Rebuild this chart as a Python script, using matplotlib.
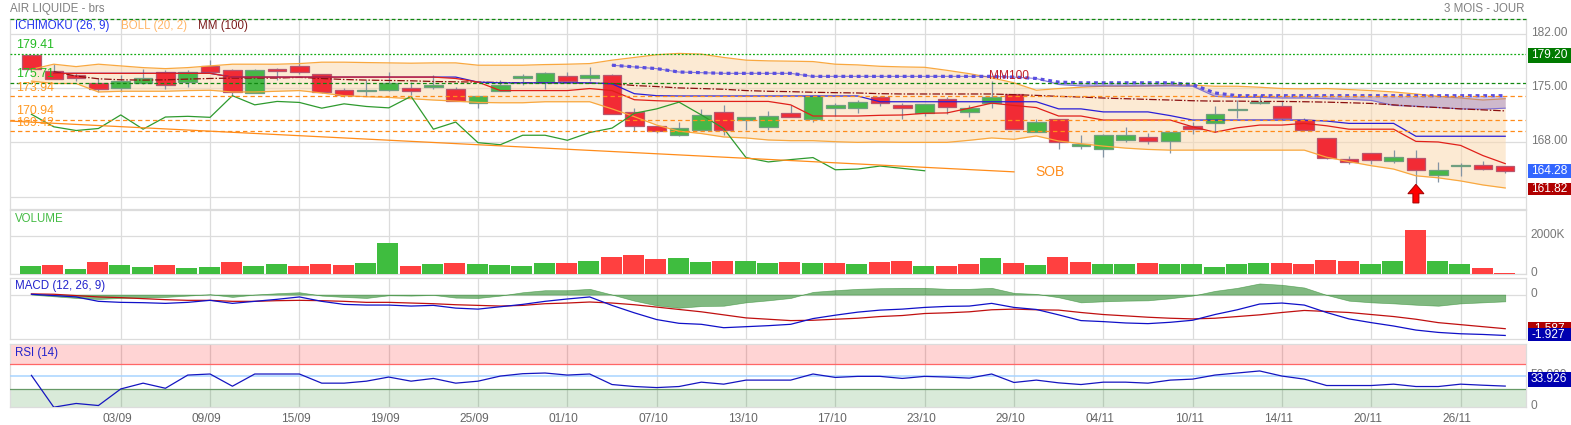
import numpy as np
import matplotlib
matplotlib.use("Agg")
import matplotlib.pyplot as plt
from matplotlib.patches import FancyArrow, Rectangle
from matplotlib.transforms import ScaledTranslation

plt.rcParams['font.family'] = ['Liberation Sans', 'DejaVu Sans']

nan = float('nan')

# Candles
candle_open = [179.30, 177.20, 176.68, 175.63, 175.02, 175.68, 177.03, 175.77, 177.81, 177.33,
               174.37, 177.47, 177.81, 176.77, 174.81, 174.59, 174.76, 175.07, 175.11, 174.94,
               173.06, 174.68, 176.33, 175.77, 176.51, 176.33, 176.64, 171.88, 170.10, 169.01,
               169.66, 171.93, 170.88, 169.92, 171.80, 171.01, 172.41, 172.41, 173.89, 172.84,
               171.75, 173.63, 171.88, 173.11, 174.24, 169.31, 171.01, 167.57, 167.18, 168.35,
               168.70, 168.22, 170.10, 170.45, 172.15, 173.06, 172.71, 170.88, 168.53, 165.91,
               166.69, 165.61, 166.04, 163.77, 164.95, 165.13, 165.00]
candle_close = [177.42, 176.20, 176.33, 174.89, 175.90, 176.24, 175.46, 177.03, 177.03, 174.50,
                177.33, 177.20, 177.12, 174.54, 174.11, 174.72, 175.72, 174.63, 175.37, 173.37,
                174.02, 175.46, 176.55, 176.90, 175.94, 176.64, 171.62, 170.10, 169.44, 169.84,
                171.58, 169.66, 171.27, 171.40, 171.23, 173.93, 172.84, 173.24, 173.11, 172.41,
                172.97, 172.54, 172.49, 173.89, 169.70, 170.62, 168.00, 167.79, 168.96, 168.92,
                168.22, 169.36, 169.75, 171.67, 172.32, 173.24, 171.10, 169.66, 166.04, 165.47,
                165.74, 166.09, 164.43, 164.47, 165.04, 164.56, 164.30]
candle_high = [179.30, 178.08, 176.99, 176.24, 176.68, 177.42, 177.29, 177.33, 178.64, 177.42,
               177.42, 177.64, 179.30, 176.86, 175.02, 175.98, 177.07, 175.77, 176.68, 175.11,
               174.02, 175.98, 176.86, 177.07, 177.07, 177.73, 176.86, 172.49, 170.14, 170.66,
               172.28, 172.84, 171.32, 172.10, 172.84, 174.02, 173.06, 173.50, 173.98, 173.06,
               172.97, 173.80, 172.84, 175.90, 174.24, 171.01, 171.01, 168.96, 169.05, 170.01,
               169.23, 169.36, 170.66, 172.63, 173.50, 174.15, 173.28, 171.10, 168.53, 166.30,
               166.69, 166.96, 167.00, 165.52, 165.30, 165.65, 165.00]
candle_low = [177.42, 176.20, 175.90, 174.50, 174.50, 175.55, 174.89, 175.11, 177.03, 173.93,
              174.37, 175.98, 176.86, 174.37, 173.85, 173.93, 174.68, 174.15, 174.94, 173.37,
              172.41, 174.68, 175.46, 174.89, 175.90, 175.90, 171.62, 169.44, 169.27, 168.83,
              169.66, 169.01, 169.57, 169.57, 171.23, 170.58, 171.45, 171.84, 172.63, 171.01,
              171.45, 171.62, 171.23, 172.41, 169.70, 169.31, 167.18, 167.18, 166.09, 168.05,
              167.79, 166.65, 169.14, 169.36, 171.19, 172.93, 171.01, 169.66, 165.87, 165.17,
              165.17, 165.30, 162.60, 162.95, 163.64, 164.43, 163.99]

# Overlays
boll_up = [177.42, 178.08, 177.77, 178.08, 177.86, 177.64, 177.51, 177.64, 177.86, 178.08,
           178.08, 178.08, 178.16, 178.34, 178.34, 178.29, 178.25, 178.21, 178.25, 178.25,
           177.95, 177.95, 177.95, 178.03, 178.08, 178.16, 178.60, 178.95, 179.30, 179.47,
           179.38, 178.95, 178.60, 178.51, 178.47, 178.42, 178.08, 177.99, 177.81, 177.73,
           177.68, 177.29, 176.86, 176.33, 175.68, 174.72, 174.94, 175.11, 175.24, 175.24,
           175.28, 175.37, 175.37, 175.24, 175.24, 175.11, 174.94, 174.89, 174.94, 174.81,
           174.68, 174.50, 174.24, 173.93, 173.72, 173.46, 173.63]
boll_low = [175.90, 175.59, 175.59, 174.50, 174.59, 174.59, 174.59, 174.68, 174.72, 174.50,
            174.50, 174.59, 174.68, 174.37, 174.02, 173.89, 173.80, 173.63, 173.46, 173.32,
            173.15, 173.11, 173.11, 173.24, 173.24, 173.24, 172.32, 171.32, 170.23, 169.44,
            169.14, 168.70, 168.57, 168.31, 168.22, 168.22, 168.09, 168.00, 168.05, 168.00,
            168.00, 168.00, 168.27, 168.57, 168.40, 168.83, 168.18, 167.83, 167.52, 167.26,
            167.09, 167.00, 167.00, 167.00, 167.00, 167.00, 167.00, 167.00, 166.09, 165.52,
            164.99, 164.56, 163.69, 163.43, 163.03, 162.51, 162.12]
mm100 = [nan, 177.12, 176.55, 176.20, 176.07, 176.03, 176.07, 176.16, 176.24, 176.29,
         176.29, 176.29, 176.38, 176.24, 176.11, 176.03, 175.98, 175.94, 175.85, 175.81,
         175.77, 175.72, 175.68, 175.68, 175.68, 175.63, 175.59, 175.33, 175.20, 175.02,
         174.94, 174.85, 174.68, 174.59, 174.54, 174.46, 174.41, 174.37, 174.28, 174.24,
         174.24, 174.24, 174.24, 174.24, 174.15, 174.06, 173.93, 173.85, 173.72, 173.63,
         173.54, 173.46, 173.37, 173.32, 173.32, 173.28, 173.28, 173.24, 173.19, 173.11,
         173.02, 172.84, 172.63, 172.49, 172.32, 172.19, 172.06]
kijun = [nan, 176.90, 176.90, 176.90, 176.90, 176.90, 176.90, 176.90, 176.90, 176.42,
         176.42, 176.42, 176.42, 176.42, 176.42, 176.42, 176.42, 176.42, 176.42, 176.24,
         175.77, 174.68, 174.68, 174.68, 174.68, 174.94, 174.68, 173.50, 173.37, 173.28,
         173.28, 173.28, 173.28, 173.28, 172.84, 171.40, 171.40, 171.40, 171.49, 171.53,
         171.75, 171.80, 172.41, 173.06, 172.76, 172.49, 171.40, 171.40, 170.88, 170.88,
         170.88, 170.88, 170.01, 169.31, 169.88, 170.23, 170.23, 170.45, 170.14, 169.70,
         169.70, 169.70, 168.13, 168.05, 167.61, 166.30, 165.26]
tenkan = [nan, 176.90, 176.90, 176.90, 176.90, 176.90, 176.90, 176.90, 176.90, 176.42,
          176.42, 176.42, 176.42, 176.42, 176.42, 176.42, 176.42, 176.42, 176.42, 176.42,
          175.77, 175.68, 175.68, 175.68, 175.68, 175.68, 175.55, 174.28, 174.02, 173.98,
          173.98, 173.98, 173.98, 173.98, 173.98, 173.98, 173.98, 173.98, 173.24, 173.24,
          173.24, 173.24, 173.24, 173.24, 173.24, 173.24, 172.32, 172.32, 171.93, 171.93,
          171.93, 171.45, 170.88, 170.88, 170.88, 170.88, 170.88, 170.88, 170.75, 170.45,
          170.45, 170.45, 168.79, 168.79, 168.79, 168.79, 168.79]
senkou_a = [177.95, 177.73, 177.51, 177.07, 176.99, 176.90, 176.90, 176.90, 176.90, 176.51,
            176.51, 176.51, 176.51, 176.51, 176.51, 176.51, 176.51, 176.51, 176.42, 176.24,
            175.77, 175.68, 175.68, 175.68, 175.68, 175.68, 175.46, 174.37, 174.02, 174.02,
            174.02, 174.02, 174.02, 174.02, 174.02, 174.02, 174.02, 174.02, 174.02, 174.02, 174.02]
senkou_b = [177.95, 177.73, 177.51, 177.07, 176.99, 176.90, 176.90, 176.90, 176.90, 176.51,
            176.51, 176.51, 176.51, 176.51, 176.51, 176.51, 176.51, 176.51, 176.42, 176.24,
            175.46, 175.28, 175.28, 175.28, 175.28, 175.28, 175.24, 173.93, 173.80, 173.80,
            173.72, 173.72, 173.63, 173.54, 173.41, 172.76, 172.67, 172.49, 172.32, 172.28, 172.41]
chikou = [171.62, 170.01, 169.53, 169.79, 171.54, 169.70, 171.27, 171.36, 171.23, 174.02,
          172.84, 173.28, 173.15, 172.41, 172.97, 172.63, 172.45, 173.93, 169.70, 170.62,
          167.96, 167.70, 168.92, 168.92, 168.27, 169.27, 169.84, 171.75, 172.32, 173.19,
          171.54, 169.79, 166.04, 165.48, 165.78, 166.04, 164.47, 164.56, 164.95, 164.65, 164.34]

# Levels and labels on the price panel
green_levels = [179.41, 175.71]
orange_levels = [173.94, 170.94, 169.42]
sob_x = [-0.96, 44]
sob_y = [170.75, 164.2]

# Volume (K)
volume = [393, 464, 232, 589, 446, 339, 464, 304, 357, 589, 393, 518, 393, 518, 446, 536, 1643,
          393, 500, 536, 482, 464, 411, 571, 536, 661, 893, 1000, 786, 821, 625, 661, 643, 536,
          625, 571, 571, 518, 625, 679, 411, 411, 518, 821, 571, 464, 893, 607, 518, 518, 571,
          518, 518, 357, 518, 571, 571, 500, 732, 679, 518, 679, 2286, 679, 518, 304, 36]
volume_up = "GRGRGGRGGRGGRRRGGRGRGGGGRGRRRGGRGGRGRGRRGRRGRGRRGGRGGGGGRRRRGGRGGRR"

# MACD
macd = [0.016, -0.048, -0.111, -0.318, -0.366, -0.382, -0.414, -0.366, -0.271, -0.414,
        -0.318, -0.223, -0.111, -0.318, -0.462, -0.494, -0.494, -0.541, -0.509, -0.637,
        -0.685, -0.573, -0.462, -0.318, -0.207, -0.111, -0.509, -0.860, -1.178, -1.354,
        -1.401, -1.561, -1.513, -1.465, -1.401, -1.131, -0.971, -0.828, -0.732, -0.685,
        -0.605, -0.557, -0.541, -0.414, -0.605, -0.701, -0.955, -1.226, -1.274, -1.338,
        -1.369, -1.306, -1.210, -0.940, -0.716, -0.446, -0.398, -0.494, -0.844, -1.146,
        -1.322, -1.481, -1.672, -1.783, -1.847, -1.879, -1.927]
macd_signal = [0.032, 0.016, -0.048, -0.111, -0.143, -0.191, -0.239, -0.271, -0.271, -0.318,
               -0.318, -0.287, -0.271, -0.287, -0.318, -0.366, -0.366, -0.398, -0.430, -0.478,
               -0.509, -0.541, -0.509, -0.430, -0.398, -0.350, -0.398, -0.478, -0.589, -0.701,
               -0.812, -0.955, -1.099, -1.162, -1.226, -1.210, -1.162, -1.115, -1.035, -0.987,
               -0.892, -0.860, -0.812, -0.716, -0.685, -0.716, -0.732, -0.844, -0.940, -1.003,
               -1.067, -1.115, -1.146, -1.115, -1.035, -0.955, -0.844, -0.748, -0.796, -0.844,
               -0.940, -1.035, -1.162, -1.322, -1.417, -1.513, -1.608]
macd_hist = [0.0, -0.080, -0.159, -0.207, -0.159, -0.143, -0.111, -0.048, 0.016, -0.111,
             0.0, 0.064, 0.111, -0.048, -0.111, -0.159, -0.032, -0.048, -0.016, -0.143,
             -0.159, -0.048, 0.111, 0.207, 0.207, 0.271, 0.0, -0.287, -0.509, -0.621,
             -0.541, -0.525, -0.366, -0.271, -0.159, 0.127, 0.207, 0.271, 0.302, 0.318,
             0.318, 0.271, 0.271, 0.318, 0.080, 0.032, -0.127, -0.366, -0.318, -0.287,
             -0.271, -0.175, -0.048, 0.175, 0.318, 0.525, 0.462, 0.334, -0.016, -0.287,
             -0.366, -0.414, -0.478, -0.525, -0.414, -0.366, -0.318]

# RSI
rsi = [51.1, 0.0, 6.0, 2.7, 29.3, 38.6, 30.4, 51.6, 53.3, 33.7,
       53.3, 53.3, 53.3, 38.6, 38.6, 41.8, 48.4, 41.8, 46.2, 38.6,
       41.8, 50.0, 53.8, 54.9, 51.6, 53.3, 36.4, 33.2, 31.5, 33.2,
       40.2, 37.0, 43.5, 43.5, 43.5, 53.3, 47.8, 49.5, 49.5, 46.2,
       49.5, 48.4, 46.7, 53.3, 39.7, 43.5, 39.1, 36.4, 40.2, 40.2,
       38.6, 43.5, 45.1, 51.6, 54.9, 58.2, 50.0, 45.1, 34.8, 34.8,
       34.8, 37.0, 33.2, 33.2, 37.0, 35.3, 33.9]

tick_pos = [4, 8, 12, 16, 20, 24, 28, 32, 36, 40, 44, 48, 52, 56, 60, 64]
tick_labels = ['03/09', '09/09', '15/09', '19/09', '25/09', '01/10', '07/10', '13/10',
               '17/10', '23/10', '29/10', '04/11', '10/11', '14/11', '20/11', '26/11']

W, H = 1571, 425
GRID = '#DCDCDC'
TXT = '#777777'
FS = 8.6

fig = plt.figure(figsize=(W / 100, H / 100), dpi=100)


def px_axes(left, top, right, bottom):
    return fig.add_axes([left / W, 1 - bottom / H, (right - left) / W, (bottom - top) / H])


def style(ax, yticks, ylabels, dy=2.4):
    ax.set_xlim(-0.96, 66.93)
    ax.set_xticks(tick_pos)
    ax.set_xticklabels([])
    ax.set_yticks(yticks)
    ax.set_yticklabels(ylabels)
    ax.yaxis.tick_right()
    ax.tick_params(length=0, labelsize=FS, labelcolor=TXT, pad=3.5)
    ax.grid(True, color=GRID, lw=0.9, zorder=0)
    ax.set_axisbelow(True)
    for s in ax.spines.values():
        s.set_color(GRID)
        s.set_linewidth(0.9)
    for lbl in ax.get_yticklabels():
        lbl.set_transform(lbl.get_transform() + ScaledTranslation(0, dy / 100, fig.dpi_scale_trans))


def box(y0, y1, color, label, z=2):
    fig.add_artist(Rectangle((1527.5 / W, 1 - y1 / H), 43.5 / W, (y1 - y0) / H, color=color,
                             transform=fig.transFigure, zorder=z, lw=0))
    fig.text(1531 / W, 1 - (y0 + y1) / 2 / H, label, color='white', fontsize=FS, va='center', zorder=z + 1)


x = np.arange(len(candle_open))
x_senkou = np.arange(26, 67)
x_chikou = np.arange(len(chikou))

# Price panel
ax = px_axes(10, 18.6, 1526, 209)
ax.set_ylim(159.41, 183.96)
style(ax, [161, 168, 175, 182], ['', '168.00', '175.00', '182.00'])

ax.fill_between(x, boll_low, boll_up, color='#FBD9B0', alpha=0.55, lw=0, zorder=1)
ax.plot(x, boll_up, color='#F9A83F', lw=0.9, zorder=4)
ax.plot(x, boll_low, color='#F9A83F', lw=0.9, zorder=4)

for i in x:
    up = candle_close[i] >= candle_open[i]
    ax.vlines(i, candle_low[i], candle_high[i], color='#8494A4', lw=0.9, zorder=2)
    bot = min(candle_open[i], candle_close[i])
    h = abs(candle_close[i] - candle_open[i])
    ax.bar(i, h, bottom=bot, width=0.83, color='#47B847' if up else '#F22B35',
           edgecolor='#6F9F80' if up else '#B8566E', lw=0.9, zorder=3)

ax.fill_between(x_senkou, senkou_b, senkou_a, color='#7A5FC0', alpha=0.35, lw=0, zorder=4)
ax.plot(x_senkou, senkou_b, color='#5A50D8', lw=0.8, alpha=0.7, zorder=5)
ax.plot(x_senkou, senkou_a, color='#5A4FE0', lw=2.3, ls=(0, (1.2, 1.2)), zorder=6)
ax.plot(x, mm100, color='#8B1010', lw=0.9, ls=(0, (6, 1.5, 1.2, 1.5)), zorder=5)
ax.plot(x, tenkan, color='#2A1FD8', lw=0.9, zorder=5)
ax.plot(x, kijun, color='#E0201A', lw=0.9, zorder=5)
ax.plot(x_chikou, chikou, color='#2E9A2E', lw=0.9, zorder=5)
ax.plot(sob_x, sob_y, color='#FF8C1A', lw=0.9, zorder=5)

# Top green line sits on the frame
ax.plot([0, 1], [1, 1], transform=ax.transAxes, color='#118811', lw=0.9, ls=(0, (3, 2)), zorder=7, clip_on=False)
ax.axhline(green_levels[0], color='#11AA11', lw=0.9, ls=(0, (1.5, 1.5)), zorder=7)
ax.axhline(green_levels[1], color='#118811', lw=0.9, ls=(0, (3, 2)), zorder=7)
for lvl in orange_levels:
    ax.axhline(lvl, color='#FF8C1A', lw=0.9, ls=(0, (3.5, 2.5)), zorder=7)

for lvl, col in [(179.41, '#22BB22'), (175.71, '#22BB22'), (173.94, '#FF9922'), (170.94, '#FF9922'),
                 (169.42, '#FF9922')]:
    ax.text(-0.7, lvl + 0.32, f'{lvl:.2f}', color=col, fontsize=8.9, va='bottom', zorder=8)

ax.text(44.95, 164.15, 'SOB', color='#FF8C1A', fontsize=10, va='center', zorder=8)
ax.text(42.9, 176.55, 'MM100', color='#C0202A', fontsize=8.6, va='center', zorder=8)
ax.add_patch(FancyArrow(62, 160.19, 0, 2.41, width=0.27, head_width=0.72, head_length=1.22,
                        length_includes_head=True, facecolor='#FF0000', edgecolor='#A00000', lw=0.7, zorder=8))

# Volume panel
ax_vol = px_axes(10, 210, 1526, 273.6)
ax_vol.set_ylim(0, 3365)
style(ax_vol, [0, 2000], ['0', '2000K'], dy=2.0)
ax_vol.bar(x - 0.04, volume, width=0.94, color=['#3FBD3F' if c == 'G' else '#FF4040' for c in volume_up],
           lw=0, zorder=3)

# MACD panel
ax_macd = px_axes(10, 277.7, 1526, 338.5)
ax_macd.set_ylim(-2.07, 0.796)
style(ax_macd, [0], ['0'])
ax_macd.fill_between(x, 0, macd_hist, color='#2E8B2E', alpha=0.6, lw=0.5, zorder=2)
ax_macd.plot(x, macd_signal, color='#C01010', lw=0.9, zorder=3)
ax_macd.plot(x, macd, color='#1010C8', lw=0.9, zorder=4)

# RSI panel
ax_rsi = px_axes(10, 344.3, 1526, 407.2)
ax_rsi.set_ylim(0, 101)
style(ax_rsi, [0, 50], ['0', '50.000'])
ax_rsi.yaxis.grid(False)
ax_rsi.axhspan(70, 101, color='#FF0000', alpha=0.17, lw=0, zorder=2)
ax_rsi.axhspan(0, 30, color='#007700', alpha=0.15, lw=0, zorder=2)
ax_rsi.axhline(70, color='#FF6666', lw=0.9, zorder=3)
ax_rsi.axhline(50, color='#A8D4FF', lw=1.1, zorder=3)
ax_rsi.axhline(30, color='#669966', lw=0.9, zorder=3)
ax_rsi.plot(x, rsi, color='#1515C0', lw=0.9, zorder=4)
ax_rsi.set_xticklabels(tick_labels)
ax_rsi.tick_params(axis='x', pad=4, labelsize=FS, labelcolor='#666666')
for lbl in ax_rsi.get_xticklabels():
    lbl.set_transform(lbl.get_transform() + ScaledTranslation(-3.5 / 100, 0, fig.dpi_scale_trans))

# Texts above the panels
fig.text(10 / W, 1 - 9 / H, 'AIR LIQUIDE - brs', color='#808080', fontsize=8.3, va='center')
fig.text(1525 / W, 1 - 9 / H, '3 MOIS - JOUR', color='#808080', fontsize=8.3, va='center', ha='right')
fig.text(15.2 / W, 1 - 25.7 / H, 'ICHIMOKU (26, 9)', color='#2233EE', fontsize=8.3, va='center', zorder=5)
fig.text(120.7 / W, 1 - 25.7 / H, 'BOLL (20, 2)', color='#FFB566', fontsize=8.3, va='center', zorder=5)
fig.text(197.8 / W, 1 - 25.7 / H, 'MM (100)', color='#7A1A1A', fontsize=8.3, va='center', zorder=5)
fig.text(15.2 / W, 1 - 219 / H, 'VOLUME', color='#44BB44', fontsize=8.3, va='center', zorder=5)
fig.text(15.2 / W, 1 - 286 / H, 'MACD (12, 26, 9)', color='#2222CC', fontsize=8.3, va='center', zorder=5)
fig.text(15.2 / W, 1 - 353 / H, 'RSI (14)', color='#2222CC', fontsize=8.3, va='center', zorder=5)

# Last value boxes
box(48.3, 62.5, '#007A00', '179.20')
box(163.6, 178, '#3366FF', '164.28')
box(182.5, 195.4, '#B00000', '161.82')
box(321.6, 336, '#B00000', '-1.587', z=2)
box(328.4, 341, '#0000B0', '-1.927', z=4)
box(372, 387, '#0000B0', '33.926')

fig.savefig('out.png', dpi=100)
